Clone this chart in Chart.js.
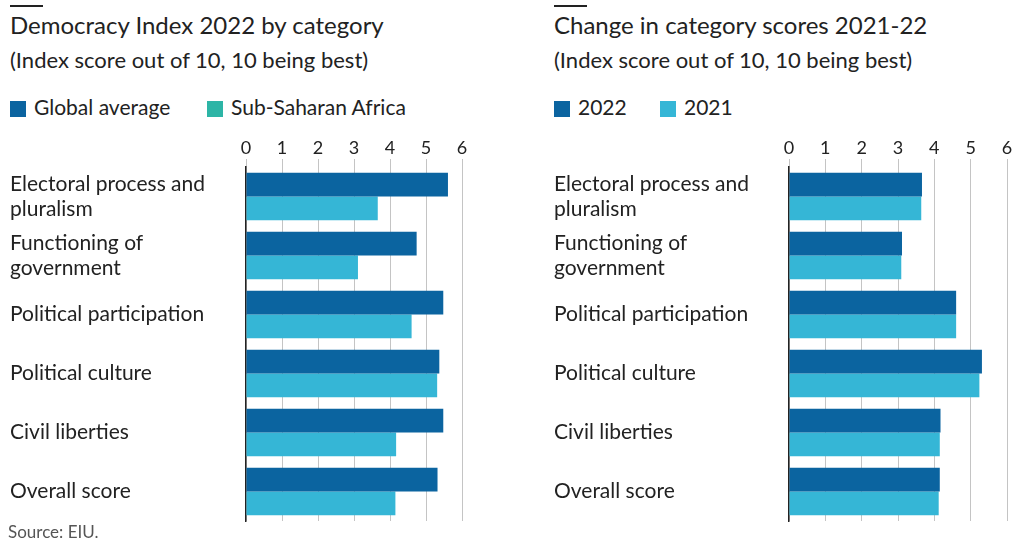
<!DOCTYPE html>
<html>
<head>
<meta charset="utf-8">
<script src="https://cdn.jsdelivr.net/npm/chart.js@4.4.1/dist/chart.umd.min.js"></script>
<style>
  html, body { margin: 0; padding: 0; background: #fff; }
  body { width: 1025px; height: 544px; position: relative; overflow: hidden; font-family: Lato, "Open Sans", sans-serif; color: #222; }
  .rule { position: absolute; top: 5px; width: 33px; height: 2px; background: #222; }
  .title { position: absolute; top: 10px; font-size: 24px; white-space: nowrap; }
  .sub { position: absolute; top: 46px; font-size: 22px; white-space: nowrap; }
  .legend { position: absolute; top: 94px; font-size: 21px; white-space: nowrap; }
  .legend .sw { display: inline-block; width: 16px; height: 16px; vertical-align: -2px; margin-right: 8px; }
  .chart { position: absolute; top: 130px; height: 400px; }
  .source { position: absolute; left: 8px; top: 521px; font-size: 17px; color: #555; }
</style>
</head>
<body>
<div class="rule" style="left:10px"></div>
<div class="title" style="left:10px">Democracy Index 2022 by category</div>
<div class="sub" style="left:10px">(Index score out of 10, 10 being best)</div>
<div class="legend" style="left:10px"><span class="sw" style="background:#0b64a0"></span>Global average</div>
<div class="legend" style="left:207px"><span class="sw" style="background:#2db5a6"></span>Sub-Saharan Africa</div>

<div class="rule" style="left:554px"></div>
<div class="title" style="left:554px">Change in category scores 2021-22</div>
<div class="sub" style="left:554px">(Index score out of 10, 10 being best)</div>
<div class="legend" style="left:554px"><span class="sw" style="background:#0b64a0"></span>2022</div>
<div class="legend" style="left:660px"><span class="sw" style="background:#35b6d6"></span>2021</div>

<div class="chart" style="left:0px; width:500px"><canvas id="byCategory"></canvas></div>
<div class="chart" style="left:544px; width:481px"><canvas id="change"></canvas></div>
<div class="source">Source: EIU.</div>

<script>
// categories and scores
const categories = [
  ['Electoral process and', 'pluralism'],
  ['Functioning of', 'government'],
  'Political participation',
  'Political culture',
  'Civil liberties',
  'Overall score'
];
const globalAverage = [5.61, 4.74, 5.48, 5.37, 5.48, 5.32];
const ssa2022 = [3.66, 3.11, 4.60, 5.31, 4.17, 4.15];
const ssa2021 = [3.64, 3.09, 4.60, 5.24, 4.15, 4.12];
const scoreTicks = [0, 1, 2, 3, 4, 5, 6];

const DARK = '#0b64a0';
const LIGHT = '#35b6d6';
const TEXT = '#222';

function makeBarChart(canvasId, series, axisWidth, padRight) {
  return new Chart(document.getElementById(canvasId), {
    type: 'bar',
    data: {
      labels: categories,
      datasets: series.map(s => ({
        label: s.label,
        data: s.data,
        backgroundColor: s.color,
        borderWidth: 0,
        categoryPercentage: 0.805,
        barPercentage: 1.0
      }))
    },
    options: {
      indexAxis: 'y',
      responsive: true,
      maintainAspectRatio: false,
      animation: false,
      layout: { padding: { left: 10, right: padRight, top: 0, bottom: 9 } },
      plugins: { legend: { display: false }, tooltip: { enabled: false } },
      scales: {
        x: {
          position: 'top',
          min: 0,
          max: 6,
          afterBuildTicks: (scale) => { scale.ticks = scoreTicks.map(v => ({ value: v })); },
          afterFit: (scale) => { scale.height = 37; },
          grid: { color: '#c4c4c4', lineWidth: 1, drawTicks: true, tickLength: 8, tickColor: '#c4c4c4' },
          border: { display: false },
          ticks: { color: TEXT, padding: 0, font: { family: 'Lato', size: 18 } }
        },
        y: {
          // fixed label column, no extra room for the two-line labels
          afterFit: (scale) => {
            scale.width = axisWidth;
            scale.paddingTop = 0;
            scale.paddingBottom = 0;
          },
          grid: { display: false },
          border: { display: true, color: '#222', width: 1.5 },
          ticks: {
            color: TEXT,
            crossAlign: 'far',
            font: { family: 'Lato', size: 21, lineHeight: 1.2 }
          }
        }
      }
    }
  });
}

makeBarChart('byCategory', [
  { label: 'Global average', data: globalAverage, color: DARK },
  { label: 'Sub-Saharan Africa', data: ssa2022, color: LIGHT }
], 236, 38);

makeBarChart('change', [
  { label: '2022', data: ssa2022, color: DARK },
  { label: '2021', data: ssa2021, color: LIGHT }
], 235, 18);
</script>
</body>
</html>
